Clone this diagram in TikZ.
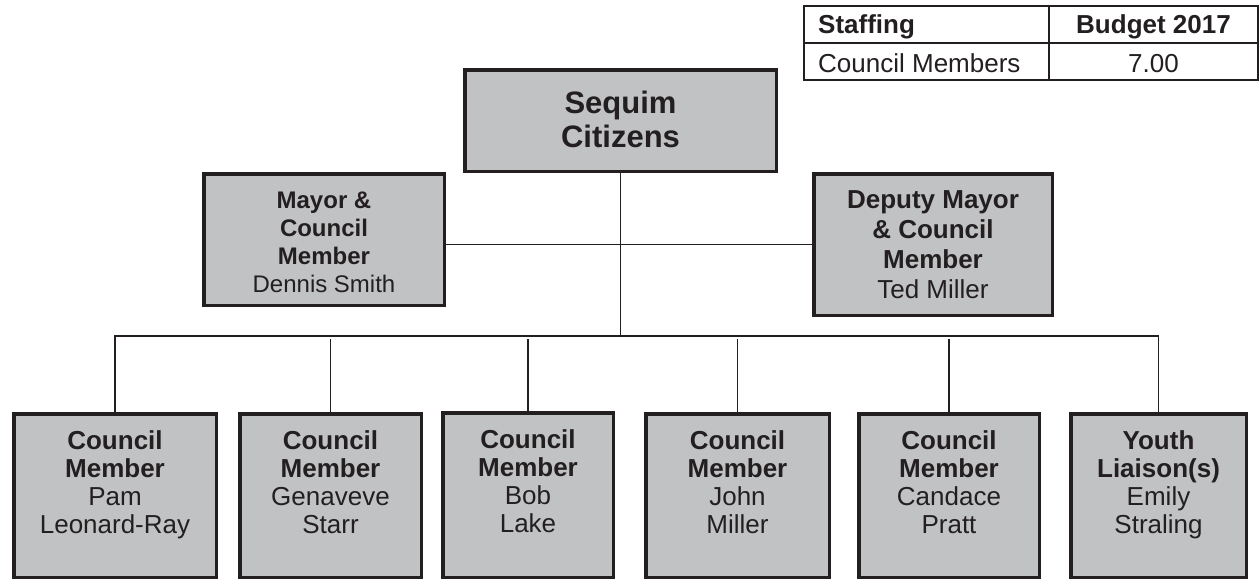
\documentclass[tikz,border=0pt]{standalone}
\usepackage{fontspec}
\setmainfont{Liberation Sans}
\definecolor{ink}{HTML}{231F20}
\definecolor{boxgray}{HTML}{C1C2C4}
\begin{document}
\begin{tikzpicture}[x=1pt,y=-1pt,
  box/.style={draw=ink, fill=boxgray, line width=3.5pt, inner sep=0pt, outer sep=0pt},
  lbl/.style={align=center, inner sep=0pt, text=ink, anchor=north},
  botlbl/.style={lbl, font=\fontsize{26}{28}\selectfont},
  conn/.style={draw=ink, line width=1.4pt},
  tline/.style={draw=ink, line width=1.6pt},
  tcell/.style={inner sep=0pt, text=ink, font=\fontsize{26}{30}\selectfont}]
\useasboundingbox[fill=white] (0,0) rectangle (1259,581);

% table
\draw[tline] (804,6) rectangle (1258,80);
\draw[tline] (804,43) -- (1258,43);
\draw[tline] (1049,6) -- (1049,80);
\node[tcell, anchor=base west] (staff) at (818,33) {\textbf{Staffing}};
\node[tcell, anchor=base] (budget) at (1153.5,33) {\textbf{Budget 2017}};
\node[tcell, anchor=base west] (cm) at (818,72) {Council Members};
\node[tcell, anchor=base] (seven) at (1153.5,72) {7.00};

% boxes
\node[box, minimum width=311.5pt, minimum height=101.5pt] (seq) at (620.5,120.5) {};
\node[box, minimum width=240.5pt, minimum height=131.5pt] (mayor) at (324,239.5) {};
\node[box, minimum width=238.5pt, minimum height=141.5pt] (deputy) at (933,244.5) {};
\node[box, minimum width=202.5pt, minimum height=163.5pt] (pam) at (115,495.5) {};
\node[box, minimum width=181.5pt, minimum height=163.5pt] (gen) at (330.5,495.5) {};
\node[box, minimum width=170.5pt, minimum height=164.5pt] (bob) at (528,495) {};
\node[box, minimum width=183.5pt, minimum height=163.5pt] (john) at (737.5,495.5) {};
\node[box, minimum width=180.5pt, minimum height=163.5pt] (cand) at (949,495.5) {};
\node[box, minimum width=175.5pt, minimum height=163.5pt] (youth) at (1158.5,495.5) {};

% labels
\node[lbl, font=\fontsize{31}{34}\selectfont] (seqt) at (620.5,90.5) {\textbf{Sequim}\\\textbf{Citizens}};
\node[lbl, font=\fontsize{24}{28}\selectfont] (mayort) at (324,191.5) {\textbf{Mayor \&}\\\textbf{Council}\\\textbf{Member}\\Dennis Smith};
\node[lbl, font=\fontsize{26}{30}\selectfont] (deputyt) at (933,190.7) {\textbf{Deputy Mayor}\\\textbf{\& Council}\\\textbf{Member}\\Ted Miller};
\node[botlbl] (pamt) at (115,430) {\textbf{Council}\\\textbf{Member}\\Pam\\Leonard-Ray};
\node[botlbl] (gent) at (330.5,430) {\textbf{Council}\\\textbf{Member}\\Genaveve\\Starr};
\node[botlbl] (bobt) at (528,429) {\textbf{Council}\\\textbf{Member}\\Bob\\Lake};
\node[botlbl] (johnt) at (737.5,430) {\textbf{Council}\\\textbf{Member}\\John\\Miller};
\node[botlbl] (candt) at (949,430) {\textbf{Council}\\\textbf{Member}\\Candace\\Pratt};
\node[botlbl] (youtht) at (1158.5,430.4) {\textbf{Youth}\\\textbf{Liaison(s)}\\Emily\\Straling};

% connectors
\coordinate (bus) at (620,336);
\coordinate (gap) at (620,339);
\draw[conn] (seq.south) -- (seq.south |- bus);
\draw[conn] (mayor.east |- deputy.west) -- (deputy.west);
\draw[conn] (pam.north) -- (pam.north |- bus) -- (youth.north |- bus) -- (youth.north);
\draw[conn] (gen.north) -- (gen.north |- gap);
\draw[conn] (bob.north) -- (bob.north |- gap);
\draw[conn] (john.north) -- (john.north |- gap);
\draw[conn] (cand.north) -- (cand.north |- gap);
\end{tikzpicture}
\end{document}
